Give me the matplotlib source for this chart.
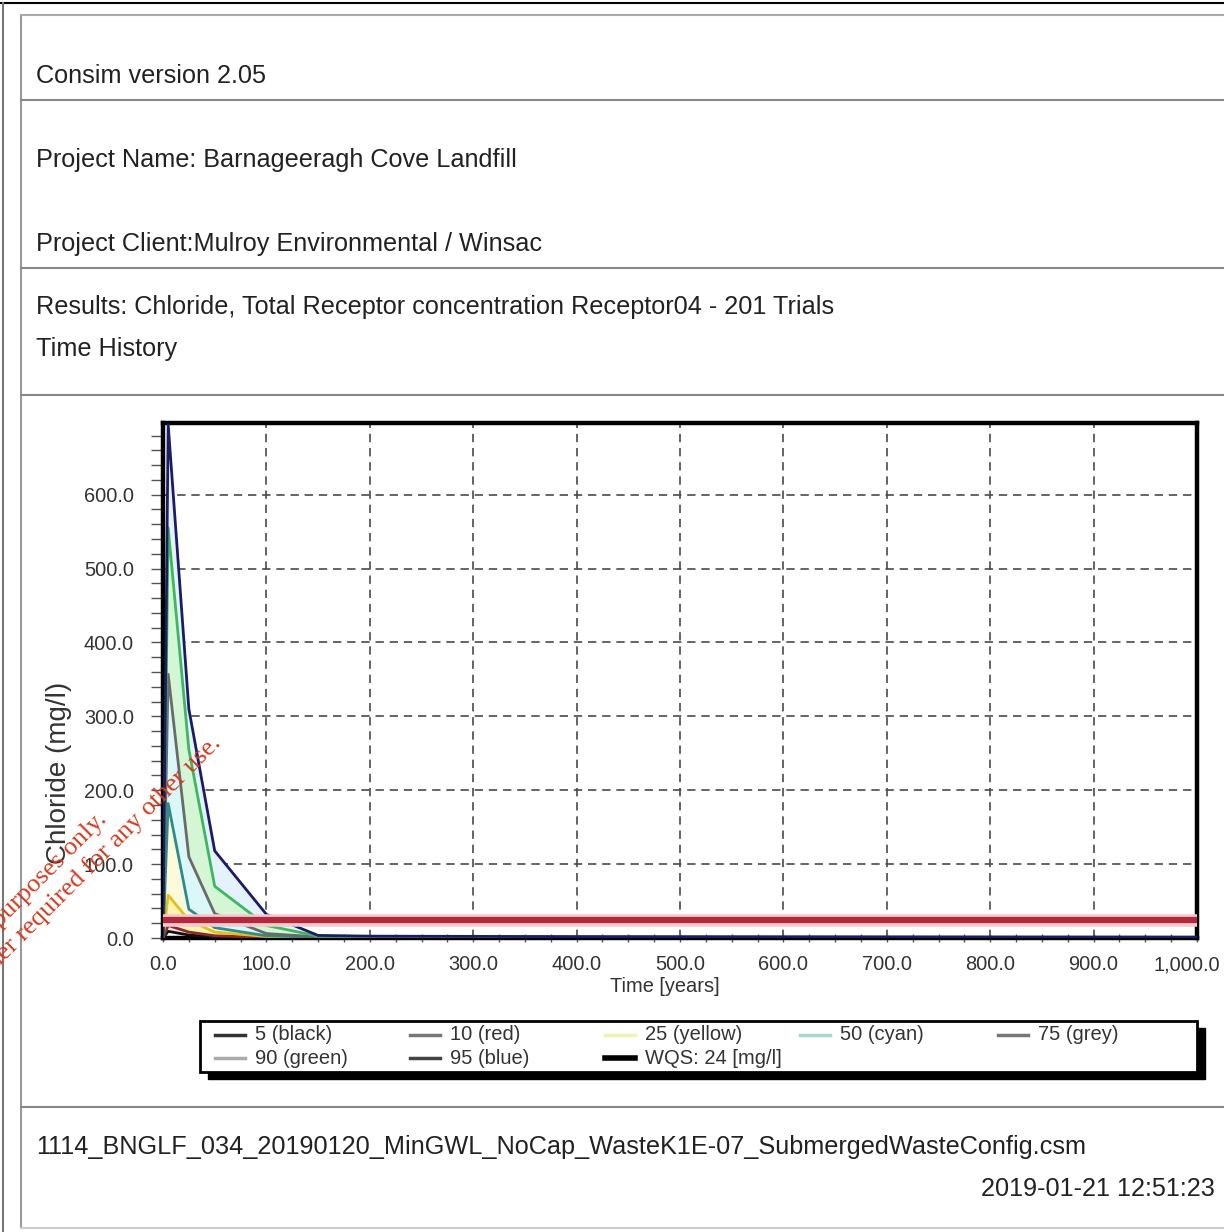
import matplotlib
matplotlib.use("Agg")
import matplotlib.pyplot as plt
from matplotlib.lines import Line2D
from matplotlib.patches import Rectangle
from matplotlib.ticker import MultipleLocator, FuncFormatter

plt.rcParams['font.family'] = ['Liberation Sans', 'DejaVu Sans']

# percentile time histories, chloride at Receptor04 (mg/l)
time_yr = [0, 5, 25, 50, 100, 150, 200, 400, 600, 800, 1000]
p95 = [0, 695, 310, 118, 32, 3.5, 2.5, 1.8, 1.5, 1.2, 1.0]
p90 = [0, 555, 255, 70, 17, 2.5, 2.0, 1.5, 1.2, 1.0, 0.9]
p75 = [0, 357, 110, 33, 6, 1.5, 1.2, 1.0, 0.8, 0.7, 0.6]
p50 = [0, 182, 39, 14, 3, 1.0, 0.8, 0.6, 0.5, 0.4, 0.4]
p25 = [0, 58, 24, 8, 2, 0.6, 0.5, 0.4, 0.3, 0.3, 0.3]
p10 = [0, 17, 8, 3, 0.8, 0.3, 0.3, 0.2, 0.2, 0.2, 0.2]
p5 = [0, 9, 4, 1.5, 0.4, 0.2, 0.2, 0.1, 0.1, 0.1, 0.1]
wqs = 24

series = [p5, p10, p25, p50, p75, p90, p95]
labels = ['5 (black)', '10 (red)', '25 (yellow)', '50 (cyan)',
          '75 (grey)', '90 (green)', '95 (blue)']
line_colors = ['#111111', '#8a2a2a', '#e0c020', '#2a8c8c', '#6a6a6a', '#3cb860', '#1c1c66']
band_colors = ['#f8e0e0', '#fff3b0', '#fdfadc', '#dcf7f7', '#d4f6d4', '#e4f2fc']
legend_colors = ['#333333', '#777777', '#f2f2b0', '#a8d8cc', '#777777', '#aaaaaa', '#444444']

W, H = 1224, 1232
fig = plt.figure(figsize=(W / 100, H / 100), dpi=100)


def fx(px):
    return px / W


def fy(py):
    return 1 - py / H


# page frame
fig.add_artist(Line2D([0, 1], [fy(3), fy(3)], color='black', lw=1.5))
fig.add_artist(Line2D([fx(3), fx(3)], [fy(3), 0], color='#777777', lw=1.5))
fig.add_artist(Line2D([fx(21), fx(21)], [fy(15), fy(1228)], color='#999999', lw=1.5))
for yy, c in [(15, '#aaaaaa'), (100, '#888888'), (268, '#888888'),
              (395, '#888888'), (1107, '#888888'), (1228, '#cccccc')]:
    fig.add_artist(Line2D([fx(21), 1], [fy(yy), fy(yy)], color=c, lw=1.5))

hdr = dict(fontsize=18.2, color='#222222', va='center', ha='left')
fig.text(fx(36), fy(76), 'Consim version 2.05', **hdr)
fig.text(fx(36), fy(160), 'Project Name: Barnageeragh Cove Landfill', **hdr)
fig.text(fx(36), fy(244), 'Project Client:Mulroy Environmental / Winsac', **hdr)
fig.text(fx(36), fy(307), 'Results: Chloride, Total Receptor concentration Receptor04 - 201 Trials', **hdr)
fig.text(fx(36), fy(349), 'Time History', **hdr)
fig.text(fx(36), fy(1147), '1114_BNGLF_034_20190120_MinGWL_NoCap_WasteK1E-07_SubmergedWasteConfig.csm', **hdr)
fig.text(fx(1215), fy(1189), '2019-01-21 12:51:23', fontsize=18.2, color='#222222',
         va='center', ha='right')

# chart
ax = fig.add_axes([fx(163), fy(938), fx(1197) - fx(163), fy(423) - fy(938)])
for i in range(len(series) - 1):
    ax.fill_between(time_yr, series[i], series[i + 1], color=band_colors[i],
                    lw=0, zorder=2)
for s, c in zip(series, line_colors):
    ax.plot(time_yr, s, color=c, lw=2.0, zorder=3)
ax.axhline(wqs, color='#f4c8d0', lw=9, zorder=4)
ax.axhline(wqs, color='#b02a3c', lw=4.5, zorder=4)

ax.set_xlim(0, 1000)
ax.set_ylim(0, 697)
ax.set_xticks(range(0, 901, 100))
ax.xaxis.set_minor_locator(MultipleLocator(25))
ax.yaxis.set_major_locator(MultipleLocator(100))
ax.yaxis.set_minor_locator(MultipleLocator(20))
fmt = FuncFormatter(lambda v, p: f'{v:,.1f}')
ax.xaxis.set_major_formatter(fmt)
ax.yaxis.set_major_formatter(fmt)
ax.grid(True, which='major', color='#4a4a4a', ls=(0, (5, 3.5)), lw=1.2)
ax.set_axisbelow(True)
for sp in ax.spines.values():
    sp.set_linewidth(3.2)
    sp.set_color('black')
ax.tick_params(axis='y', which='both', direction='out', length=9, width=1,
               color='#555555', labelsize=14.4, labelcolor='#333333', pad=12)
ax.tick_params(axis='x', which='both', direction='inout', length=6, width=1,
               color='#555555', labelsize=14.4, labelcolor='#333333', pad=9.5)
# last x label nudged in so it stays on the page
ax.annotate(fmt(1000, None), xy=(1000, 0), xycoords=('data', 'axes fraction'),
            xytext=(-7, -12.5), textcoords='offset points', ha='center', va='top',
            fontsize=14.4, color='#333333')
ax.set_xlabel('Time [years]', fontsize=14.4, color='#333333')
ax.xaxis.set_label_coords(0.485, -0.075)
ax.set_ylabel('Chloride (mg/l)', fontsize=20, color='#333333')
ax.yaxis.set_label_coords(-0.088, 0.32)

# legend box with solid drop shadow
lx0, ly0, lx1, ly1 = 200, 1021, 1197, 1072
fig.add_artist(Rectangle((fx(lx0 + 8), fy(ly1 + 7)), fx(lx1) - fx(lx0), fy(ly0) - fy(ly1),
                         facecolor='black', edgecolor='black', zorder=3))
fig.add_artist(Rectangle((fx(lx0), fy(ly1)), fx(lx1) - fx(lx0), fy(ly0) - fy(ly1),
                         facecolor='white', edgecolor='black', lw=2, zorder=4))
names = labels + ['WQS: 24 [mg/l]']
sw_colors = legend_colors + ['black']
sw_widths = [2.5] * 7 + [4]
col_x = [215, 410, 605, 800, 998]
row_y = [1035, 1058]
for k, (name, c, lw) in enumerate(zip(names, sw_colors, sw_widths)):
    x0 = col_x[k % 5]
    y0 = row_y[k // 5]
    fig.add_artist(Line2D([fx(x0), fx(x0 + 30)], [fy(y0), fy(y0)], color=c, lw=lw, zorder=5))
    fig.text(fx(x0 + 40), fy(y0), name, fontsize=14.5, color='#333333',
             va='center', ha='left', zorder=5)

# red diagonal stamp on the page edge
stamp = dict(color='#d43a1e', fontsize=19, family=['Liberation Serif', 'DejaVu Serif'],
             rotation=45, rotation_mode='anchor', ha='right', va='baseline', zorder=10)
fig.text(fx(108), fy(820), 'For inspection purposes only.', **stamp)
fig.text(fx(222), fy(744), 'Consent of copyright owner required for any other use.', **stamp)

fig.savefig('out.png', dpi=100)
